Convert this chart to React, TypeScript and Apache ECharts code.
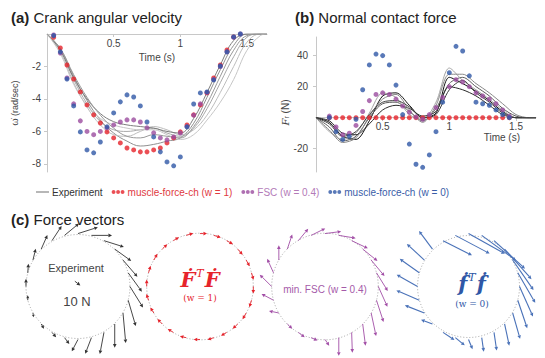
import React, { useEffect, useRef } from "react";
import * as echarts from "echarts";

// ---------- data ----------
const expTime = [0, 0.1, 0.2, 0.3, 0.4, 0.5, 0.6, 0.7, 0.8, 0.9, 1.0, 1.1, 1.2, 1.3, 1.4, 1.5, 1.6, 1.65];
const velExp1 = [0, -0.9, -2.6, -4.1, -5.3, -6.1, -6.6, -6.9, -6.8, -6.6, -6.4, -5.5, -3.9, -2.2, -0.7, 0, 0, 0];
const velExp2 = [0, -1.0, -2.8, -4.3, -5.4, -5.9, -6.0, -5.9, -5.8, -6.1, -6.3, -5.8, -4.6, -3.0, -1.4, -0.2, 0, 0];
const velExp3 = [0, -1.1, -3.0, -4.5, -5.6, -6.2, -6.3, -6.0, -5.7, -5.9, -6.2, -5.9, -5.0, -3.6, -2.0, -0.5, 0, 0];
const velExp4 = [0, -1.0, -2.7, -4.0, -4.9, -5.4, -5.6, -5.7, -5.8, -6.0, -6.1, -5.2, -3.6, -1.9, -0.4, 0, 0, 0];
const velExp5 = [0, -1.2, -3.1, -4.4, -5.2, -5.6, -5.8, -5.9, -5.9, -6.2, -6.5, -6.2, -5.3, -4.2, -2.8, -1.0, -0.1, 0];
const velExp6 = [0, -0.9, -2.5, -3.9, -5.0, -5.8, -6.3, -6.4, -6.2, -6.3, -6.4, -5.7, -4.3, -2.6, -1.0, -0.1, 0, 0];

const forceExp1 = [0, -3, -12, -14, -2, 14, 16, 8, 0, 3, 26, 22, 17, 11, 4, 0, 0, 0];
const forceExp2 = [0, -6, -15, -12, 0, 9, 10, 4, -2, 6, 22, 26, 20, 14, 6, 1, 0, 0];
const forceExp3 = [0, -9, -14, -10, 3, 16, 13, 2, -1, 10, 32, 24, 18, 12, 5, 0, 0, 0];
const forceExp4 = [0, -2, -10, -11, -4, 5, 8, 6, 1, 4, 20, 18, 14, 8, 2, 0, 0, 0];
const forceExp5 = [0, -8, -16, -13, 1, 12, 15, 5, -3, 8, 28, 28, 22, 16, 9, 2, 0, 0];
const forceExp6 = [0, -4, -12, -9, 2, 10, 11, 7, 0, 2, 18, 24, 16, 10, 3, 0, 0, 0];

const markerTime = [0.05, 0.1, 0.15, 0.2, 0.25, 0.3, 0.35, 0.4, 0.45, 0.5, 0.55, 0.6, 0.65, 0.7, 0.75, 0.8, 0.85, 0.9, 0.95, 1.0, 1.05, 1.1, 1.15, 1.2, 1.25, 1.3, 1.35, 1.4, 1.45];
const velW1 = [-0.2, -0.86, -1.91, -2.77, -3.57, -4.37, -4.98, -5.48, -6.03, -6.4, -6.71, -7.02, -7.14, -7.26, -7.26, -7.14, -7.02, -6.71, -6.4, -6.03, -5.6, -4.98, -4.37, -3.63, -2.71, -1.91, -0.98, -0.18, null];
const velFSC = [-0.06, -1.17, -2.71, -4.3, -5.35, -6.0, -6.2, -6.0, -5.78, -5.6, -5.42, -5.29, -5.29, -5.42, -5.78, -6.09, -6.4, -6.52, -6.34, -6.1, -5.7, -5.0, -4.3, -3.6, -2.8, -2.0, -1.1, -0.2, 0];
const velW0 = [-0.1, -1.1, -2.77, -4.43, -6.03, -7.14, -7.32, -6.65, -5.72, -4.86, -4.18, -3.75, -3.88, -4.43, -5.42, -6.34, -7.26, -7.88, -8.12, -7.57, -5.72, -4.31, -3.63, -3.57, -2.83, -1.97, -1.1, -0.18, 0];

const forceW1 = [null, 0, 0, 0, 0, 0, 0, 0, 0, 0, 0, 0, 0, 0, 0, 0, 0, 0, 0, 0, 0, 0, 0, 0, 0, 0, 0, 0, 0];
const forceFSC = [null, 1, -6, -11, -10, -5, 4, 11, 15, 16, 15, 12, 7.5, 3.5, 0.5, -1, 2, 6.5, 13, 20, 24.5, 23, 20, 16, 14, 12, 9, 5, 1];
const forceW0 = [null, 0, -9, -14, -12, -1, 18, 34, 41, 40, 34, 21, 2, -17, -30, -32, -24, -9, 10, 29, 46, 43, 27, 10, 9, 8, 5, 2, 0];

const timeTicks = [0.5, 1, 1.5];
const velTicks = [-8, -6, -4, -2];
const forceTicks = [-20, 20, 40];

// crank angle (deg) and force vector components (N, x right / y up)
const crankAngle = [0, 15, 30, 45, 60, 75, 90, 105, 120, 135, 150, 165, 180, 195, 210, 225, 240, 255, 270, 285, 300, 315, 330, 345];
const expFx = [19, 20, 21, 24, 29, 30, 29, 21, 14, 9, 4, 1, 0, 0, 1, 4, 6, 7, -9, -9, -6, 0, 4, 11];
const expFy = [-30, -27, -24, -17, -9, 0, 9, 17, 21, 20, 16, 13, 11, 7, -6, -7, -7, -9, -17, -23, -31, -34, -43, -37];
const w1Fx = [0, 3, 5, 7, 9, 10, 10, 10, 8, 7, 5, 3, 0, -3, -5, -7, -8, -9, -9, -9, -8, -7, -5, -3];
const w1Fy = [-10, -10, -9, -8, -5, -3, 0, 3, 5, 7, 9, 10, 10, 9, 8, 7, 5, 2, 0, -3, -5, -7, -9, -10];
const fscFx = [13, 16, 19, 21, 23, 24, 23, 20, 14, 7, 0, -9, -17, -17, -14, 7, 9, 9, 6, 0, 1, 4, 7, 10];
const fscFy = [-29, -26, -23, -17, -11, -4, 3, 10, 17, 21, 21, 20, 17, 9, 3, -7, -7, -4, -9, -26, -29, -31, -33, -31];
const w0Fx = [20, 26, 31, 40, 46, 51, 54, 51, 43, -20, -26, -29, -31, -34, -29, -17, 17, 14, 6, 3, 4, 7, 11, 14];
const w0Fy = [-43, -43, -43, -43, -40, -36, -29, -26, -21, 26, 23, 20, 17, 14, 11, 6, -11, -11, -14, -20, -26, -31, -37, -40];
const scaleForce = [8, -6]; // 10 N reference vector

// ---------- styles ----------
const FONT = "'Liberation Sans', Arial, sans-serif";
const SERIF = "'DejaVu Serif', 'Liberation Serif', serif";
const RED = "#e6232b";
const PURPLE = "#9b4c9f";
const BLUE = "#2f57a6";
const NAME_EXP = "Experiment";
const NAME_W1 = "muscle-force-ch (w = 1)";
const NAME_FSC = "FSC (w = 0.4)";
const NAME_W0 = "muscle-force-ch (w = 0)";
const VEC_SCALE = 0.0132; // crank radii per N
const CX = [76, 200, 325, 472];
const CY = 287;
const UNIT = 53.3;

const zip = (xs: number[], ys: (number | null)[]) => xs.map((x, i) => [x, ys[i]]);

function arrowShape(p0: number[], p1: number[], color: string, lw: number) {
  const dx = p1[0] - p0[0];
  const dy = p1[1] - p0[1];
  const len = Math.hypot(dx, dy) || 1;
  const ux = dx / len;
  const uy = dy / len;
  const h = Math.min(3.6, len * 0.6);
  const w = h * 0.5;
  const bx = p1[0] - ux * h;
  const by = p1[1] - uy * h;
  return {
    type: "group",
    children: [
      { type: "line", shape: { x1: p0[0], y1: p0[1], x2: bx, y2: by }, style: { stroke: color, lineWidth: lw } },
      {
        type: "polygon",
        shape: { points: [[p1[0], p1[1]], [bx - uy * w, by + ux * w], [bx + uy * w, by - ux * w]] },
        style: { fill: color },
      },
    ],
  };
}

function arrowRenderer(color: string, lw: number) {
  return (params: any, api: any) => {
    const a = (api.value(0) * Math.PI) / 180;
    const fx = api.value(1);
    const fy = api.value(2);
    const x0 = Math.cos(a);
    const y0 = Math.sin(a);
    const p0 = api.coord([x0, y0]);
    const p1 = api.coord([x0 + fx * VEC_SCALE, y0 + fy * VEC_SCALE]);
    return arrowShape(p0, p1, color, lw);
  };
}

const circleRenderer = (params: any, api: any) => {
  const c = api.coord([api.value(0), api.value(1)]);
  const e = api.coord([api.value(0) + api.value(2), api.value(1)]);
  return {
    type: "circle",
    shape: { cx: c[0], cy: c[1], r: e[0] - c[0] },
    style: { fill: "none", stroke: "#9a9a9a", lineWidth: 0.9, lineDash: [1, 2] },
  };
};

export default function App() {
  const ref = useRef<HTMLDivElement>(null);
  useEffect(() => {
    if (!ref.current) return;
    const chart = echarts.init(ref.current, null, { renderer: "svg" });

    const expGray = ["#8f8f8f", "#a8a8a8", "#bdbdbd", "#7d7d7d", "#c6c6c6", "#999999"];
    const expDark = ["#111111", "#5a5a5a", "#a5a5a5", "#2a2a2a", "#888888", "#3c3c3c"];
    const velExp = [velExp1, velExp2, velExp3, velExp4, velExp5, velExp6];
    const forceExp = [forceExp1, forceExp2, forceExp3, forceExp4, forceExp5, forceExp6];

    const series: any[] = [];
    velExp.forEach((v, i) =>
      series.push({
        type: "line", name: NAME_EXP, xAxisIndex: 0, yAxisIndex: 0, data: zip(expTime, v),
        smooth: 0.4, symbol: "none", lineStyle: { width: 1, color: expGray[i] }, itemStyle: { color: "#888" }, z: 2,
      })
    );
    forceExp.forEach((v, i) =>
      series.push({
        type: "line", name: NAME_EXP, xAxisIndex: 1, yAxisIndex: 1, data: zip(expTime, v),
        smooth: 0.3, symbol: "none", lineStyle: { width: 1, color: expDark[i] }, itemStyle: { color: "#888" }, z: 2,
      })
    );
    const dots = (name: string, color: string, xi: number, data: any[]) => ({
      type: "scatter", name, xAxisIndex: xi, yAxisIndex: xi, data, symbol: "circle", symbolSize: 5,
      itemStyle: { color }, z: 4,
    });
    series.push(dots(NAME_W1, RED, 0, zip(markerTime, velW1)));
    series.push(dots(NAME_FSC, PURPLE, 0, zip(markerTime, velFSC)));
    series.push(dots(NAME_W0, BLUE, 0, zip(markerTime, velW0)));
    series.push(dots(NAME_W1, RED, 1, zip(markerTime, forceW1)));
    series.push(dots(NAME_FSC, PURPLE, 1, zip(markerTime, forceFSC)));
    series.push(dots(NAME_W0, BLUE, 1, zip(markerTime, forceW0)));

    const vecSets = [
      { fx: expFx, fy: expFy, color: "#333333", lw: 0.9 },
      { fx: w1Fx, fy: w1Fy, color: RED, lw: 0.9 },
      { fx: fscFx, fy: fscFy, color: "#a24ea6", lw: 0.9 },
      { fx: w0Fx, fy: w0Fy, color: "#4a72b8", lw: 1.1 },
    ];
    vecSets.forEach((s, i) => {
      series.push({
        type: "custom", xAxisIndex: 2 + i, yAxisIndex: 2 + i, data: [[0, 0, 1]],
        renderItem: circleRenderer, silent: true, z: 1,
      });
      series.push({
        type: "custom", xAxisIndex: 2 + i, yAxisIndex: 2 + i,
        data: crankAngle.map((a, j) => [a, s.fx[j], s.fy[j]]),
        renderItem: arrowRenderer(s.color, s.lw), silent: true, z: 3,
      });
    });
    series.push({
      type: "custom", xAxisIndex: 2, yAxisIndex: 2, data: [[-0.06, 0.1, scaleForce[0], scaleForce[1]]], silent: true, z: 3,
      renderItem: (p: any, api: any) => {
        const x = api.value(0), y = api.value(1);
        const p0 = api.coord([x, y]);
        const p1 = api.coord([x + api.value(2) * VEC_SCALE, y + api.value(3) * VEC_SCALE]);
        return arrowShape(p0, p1, "#333", 0.9);
      },
    });

    const grids: any[] = [
      { left: 47, top: 34, width: 220, height: 138 },
      { left: 316, top: 37, width: 220, height: 135 },
    ];
    CX.forEach((cx) => grids.push({ left: cx - 1.5 * UNIT, top: CY - 1.35 * UNIT, width: 3 * UNIT, height: 2.7 * UNIT }));
    // label strip for (b): its bottom edge sits on Fr = 0 of panel (b)
    grids.push({ left: 316, top: 37, width: 220, height: 81 });

    const axLabel = { fontSize: 10, color: "#444", fontFamily: FONT };
    const xAxes: any[] = [
      {
        gridIndex: 0, type: "value", min: 0, max: 1.65, position: "top",
        axisLine: { show: true, onZero: false, lineStyle: { color: "#c8c8c8" } },
        axisTick: { show: true, inside: true, length: 3, customValues: timeTicks, lineStyle: { color: "#c8c8c8" } },
        axisLabel: { ...axLabel, inside: true, margin: 4, customValues: timeTicks },
        splitLine: { show: false },
        name: "Time (s)", nameLocation: "middle", nameGap: -18, nameMoveOverlap: false,
        nameTextStyle: { fontSize: 10, color: "#444", fontFamily: FONT, verticalAlign: "top" },
      },
      {
        gridIndex: 1, type: "value", min: 0, max: 1.65,
        axisLine: { show: true, onZero: true, lineStyle: { color: "#c8c8c8" } },
        axisTick: { show: false },
        axisLabel: { show: false },
        splitLine: { show: false },
      },
    ];
    const yAxes: any[] = [
      {
        gridIndex: 0, type: "value", min: -8.5, max: 0,
        axisLine: { show: true, onZero: false, lineStyle: { color: "#c8c8c8" } },
        axisTick: { show: true, length: 3, customValues: velTicks, lineStyle: { color: "#c8c8c8" } },
        axisLabel: { ...axLabel, margin: 6, customValues: velTicks },
        splitLine: { show: false },
        name: "ω̇ (rad/sec)", nameLocation: "middle", nameGap: 28, nameRotate: 90, nameMoveOverlap: false,
        nameTextStyle: { fontSize: 9, color: "#444", fontFamily: FONT },
      },
      {
        gridIndex: 1, type: "value", min: -35, max: 52,
        axisLine: { show: true, onZero: false, lineStyle: { color: "#c8c8c8" } },
        axisTick: { show: true, length: 3, customValues: forceTicks, lineStyle: { color: "#c8c8c8" } },
        axisLabel: { ...axLabel, margin: 8, customValues: forceTicks },
        splitLine: { show: false },
        name: "{i|F}{s|r} (N)", nameLocation: "middle", nameGap: 26, nameRotate: 90, nameMoveOverlap: false,
        nameTextStyle: {
          fontSize: 10, color: "#444", fontFamily: FONT, padding: [0, 16, 0, 0],
          rich: { i: { fontStyle: "italic", fontSize: 10, color: "#444", fontFamily: SERIF }, s: { fontSize: 7, color: "#444", verticalAlign: "bottom", fontFamily: FONT } },
        },
      },
    ];
    CX.forEach((_, i) => {
      xAxes.push({ gridIndex: 2 + i, type: "value", min: -1.5, max: 1.5, show: false });
      yAxes.push({ gridIndex: 2 + i, type: "value", min: -1.35, max: 1.35, show: false });
    });
    xAxes.push({
      gridIndex: 6, type: "value", min: 0, max: 1.65, position: "bottom",
      axisLine: { show: false, onZero: false },
      axisTick: { show: true, length: 3, customValues: timeTicks, lineStyle: { color: "#c8c8c8" } },
      axisLabel: { ...axLabel, margin: 3, customValues: timeTicks },
      splitLine: { show: false },
      name: "Time (s)", nameLocation: "end", nameGap: -16, nameMoveOverlap: false,
      nameTextStyle: { fontSize: 10, color: "#444", fontFamily: FONT, align: "right", verticalAlign: "top", padding: [14, 0, 0, 0] },
    });
    yAxes.push({ gridIndex: 6, type: "value", min: 0, max: 52, show: false });

    const titleStyle = {
      fontSize: 15, fontWeight: "normal", color: "#222", fontFamily: FONT,
      rich: { b: { fontSize: 15, fontWeight: "bold", color: "#222", fontFamily: FONT } },
    };
    const dotsIcon = "path://M0,2L0.6,0.6L2,0L3.4,0.6L4,2L3.4,3.4L2,4L0.6,3.4Z M4.5,2L5.1,0.6L6.5,0L7.9,0.6L8.5,2L7.9,3.4L6.5,4L5.1,3.4Z M9,2L9.6,0.6L11,0L12.4,0.6L13,2L12.4,3.4L11,4L9.6,3.4Z";

    const txt = (text: string, x: number, y: number, fill: string, font: string, rich?: any) => ({
      type: "text", x, y, silent: true,
      style: { text, fill, font, align: "center", verticalAlign: "middle", rich },
    });

    chart.setOption({
      animation: false,
      title: [
        { text: "{b|(a)} Crank angular velocity", left: 6, top: 5, textStyle: titleStyle },
        { text: "{b|(b)} Normal contact force", left: 290, top: 5, textStyle: titleStyle },
        { text: "{b|(c)} Force vectors", left: 6, top: 207, textStyle: titleStyle },
      ],
      legend: {
        left: 31, top: 182, itemGap: 9, itemWidth: 13, itemHeight: 5, selectedMode: false,
        textStyle: { fontSize: 10, fontFamily: FONT, padding: [0, 0, 0, -2] },
        data: [
          { name: NAME_EXP, icon: "path://M0,0L13,0L13,1.2L0,1.2Z", itemStyle: { color: "#888" }, textStyle: { color: "#333" } },
          { name: NAME_W1, icon: dotsIcon, itemStyle: { color: RED }, textStyle: { color: "#e03a3f" } },
          { name: NAME_FSC, icon: dotsIcon, itemStyle: { color: PURPLE }, textStyle: { color: "#b37ab8" } },
          { name: NAME_W0, icon: dotsIcon, itemStyle: { color: BLUE }, textStyle: { color: "#3a5da8" } },
        ],
      },
      grid: grids,
      xAxis: xAxes,
      yAxis: yAxes,
      series,
      graphic: [
        txt("Experiment", CX[0], 268, "#444", `11px ${FONT}`),
        txt("10 N", CX[0] + 1, 301, "#444", `13px ${FONT}`),
        txt("{f|Ḟ}{s|T}{f|Ḟ}", CX[1], 279, RED, `bold italic 20px ${SERIF}`, {
          f: { fontSize: 21, fontWeight: "bold", fontStyle: "italic", fontFamily: SERIF, fill: RED },
          s: { fontSize: 11, fontStyle: "italic", fontFamily: SERIF, fill: RED, verticalAlign: "top", padding: [0, 1, 11, 1] },
        }),
        txt("(w = 1)", CX[1], 298, RED, `9px ${SERIF}`),
        txt("min. FSC (w = 0.4)", CX[2], 289, "#a55aa9", `10px ${FONT}`),
        txt("{f|ḟ}{s|T}{f|ḟ}", CX[3], 283, BLUE, `bold italic 20px ${SERIF}`, {
          f: { fontSize: 21, fontWeight: "bold", fontStyle: "italic", fontFamily: SERIF, fill: BLUE },
          s: { fontSize: 11, fontStyle: "italic", fontFamily: SERIF, fill: BLUE, verticalAlign: "top", padding: [0, 1, 11, 1] },
        }),
        txt("(w = 0)", CX[3], 304, BLUE, `9px ${SERIF}`),
      ],
    });
    return () => chart.dispose();
  }, []);
  return <div ref={ref} style={{ position: "absolute", left: 0, top: 0, width: 545, height: 358, background: "#fff" }} />;
}
